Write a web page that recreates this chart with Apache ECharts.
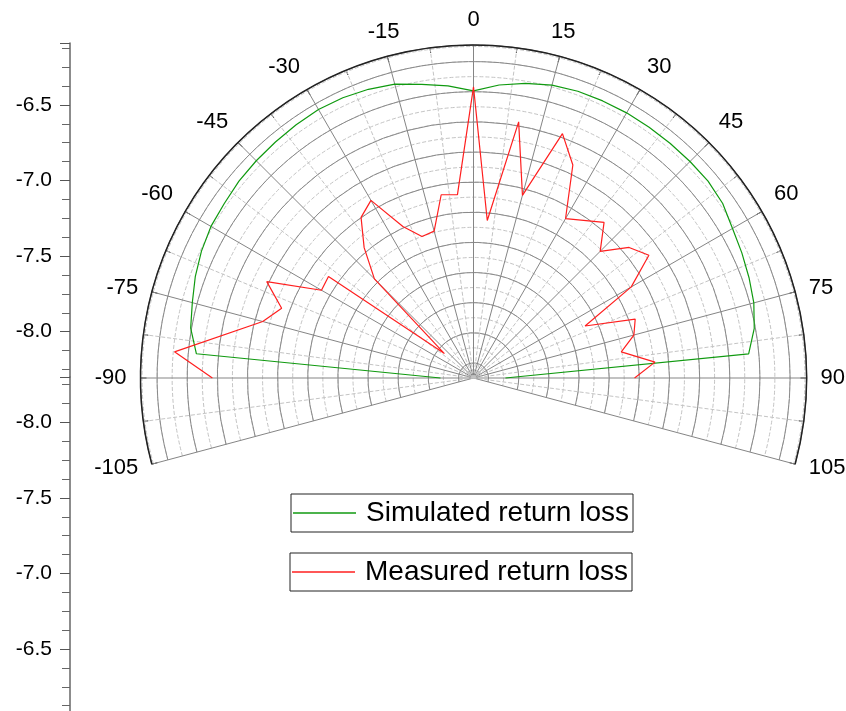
<!DOCTYPE html>
<html>
<head>
<meta charset="utf-8">
<script src="https://cdn.jsdelivr.net/npm/echarts@6/dist/echarts.min.js"></script>
<style>
  html, body { margin: 0; padding: 0; background: #fff; }
  #chart { width: 846px; height: 711px; }
</style>
</head>
<body>
<div id="chart"></div>
<script>
// Simulated return loss (dB) vs angle (deg)
const simAngles = [-90,-85,-80,-75,-70,-65,-60,-55,-50,-45,-40,-35,-30,-25,-20,-15,-10,-5,0,
                   5,10,15,20,25,30,35,40,45,50,55,60,65,70,75,80,85,90];
const simulated = [-8.081,-6.454,-6.394,-6.368,-6.335,-6.308,-6.288,-6.281,-6.268,-6.261,-6.255,-6.248,-6.242,-6.248,-6.261,-6.281,-6.321,-6.354,-6.394,
                   -6.348,-6.315,-6.288,-6.275,-6.271,-6.268,-6.268,-6.268,-6.268,-6.268,-6.281,-6.315,-6.335,-6.354,-6.374,-6.408,-6.467,-8.088];

// Measured return loss (dB) vs angle (deg)
const measAngles = [-90,-85,-75,-70,-65,-60,-55,-50,-45,-40,-35,-30,-25,-20,-15,-10,-5,0,
                    5,10,15,20,25,30,40,45,50,55,60,65,70,75,80,85,90];
const measured = [-6.567,-6.308,-6.852,-6.945,-6.786,-7.135,-7.125,-8.048,-7.370,-7.171,-6.999,-6.939,-7.191,-7.301,-7.291,-7.065,-7.078,-6.368,
                  -7.251,-6.574,-7.045,-6.574,-6.740,-7.078,-6.952,-7.111,-6.952,-6.879,-7.091,-7.483,-7.158,-7.198,-7.304,-7.091,-7.231];

const seriesNames = ['Simulated return loss', 'Measured return loss'];
const rMin = -8.3, rMax = -6.09;
const angMin = -105, angMax = 105;
const FONT = 'Liberation Sans, Arial, sans-serif';

const chart = echarts.init(document.getElementById('chart'), null, { renderer: 'canvas' });

const leftAxisCommon = {
  type: 'value',
  position: 'left',
  min: rMin,
  max: rMax,
  splitNumber: 4,
  axisLine: { show: true, lineStyle: { color: '#666', width: 1.5 } },
  axisTick: { show: true, inside: false, length: 10, lineStyle: { color: '#555' } },
  minorTick: { show: true, splitNumber: 4, length: 8, lineStyle: { color: '#666' } },
  splitLine: { show: false },
  axisLabel: {
    show: true, margin: 18, fontSize: 21, color: '#000', fontFamily: FONT,
    showMinLabel: false, showMaxLabel: false,
    formatter: v => v.toFixed(1)
  }
};

const polarGeom = { center: [473.5, 378], radius: 333 };

const legendCommon = {
  borderColor: '#222', borderWidth: 1, padding: [5, 4, 5, 2],
  icon: 'rect', itemWidth: 63, itemHeight: 1.5,
  textStyle: { fontSize: 28, color: '#000', fontFamily: FONT, padding: [0, 0, 0, 5] }
};

const option = {
  backgroundColor: '#fff',
  animation: false,
  grid: [
    { left: 70, top: 43, width: 1, height: 334 },
    { left: 70, top: 377, width: 1, height: 334 }
  ],
  xAxis: [
    { gridIndex: 0, type: 'value', show: false },
    { gridIndex: 1, type: 'value', show: false }
  ],
  yAxis: [
    Object.assign({ gridIndex: 0 }, leftAxisCommon),
    Object.assign({ gridIndex: 1, inverse: true }, leftAxisCommon)
  ],
  polar: [Object.assign({}, polarGeom), Object.assign({}, polarGeom)],
  angleAxis: [
    {
      polarIndex: 0,
      type: 'value', min: angMin, max: angMax, interval: 15,
      startAngle: 195, endAngle: -15, clockwise: true,
      z: 2,
      axisLine: { show: true, lineStyle: { color: '#222', width: 1.5 } },
      axisTick: { show: true, inside: true, length: 6, lineStyle: { color: '#222' } },
      minorTick: { show: true, splitNumber: 2, length: 5, lineStyle: { color: '#222' } },
      axisLabel: { show: true, margin: 14, fontSize: 22, color: '#000', fontFamily: FONT },
      splitLine: { show: true, lineStyle: { color: '#858585', width: 1 } },
      minorSplitLine: { show: true, lineStyle: { color: '#c4c4c4', width: 1, type: 'dashed' } }
    },
    {
      polarIndex: 1,
      type: 'value', min: angMin, max: angMax, interval: 15,
      startAngle: 195, endAngle: -15, clockwise: true,
      z: 0,
      axisLine: { show: false }, axisTick: { show: false }, axisLabel: { show: false },
      splitLine: { show: false }
    }
  ],
  radiusAxis: [
    {
      polarIndex: 0,
      type: 'value', min: rMin, max: rMax, splitNumber: 11,
      z: 1,
      axisLine: { show: false }, axisTick: { show: false }, axisLabel: { show: false },
      splitLine: { show: true, lineStyle: { color: '#8a8a8a', width: 1 } }
    },
    {
      polarIndex: 1,
      type: 'value', min: rMin, max: rMax, splitNumber: 22,
      z: 0,
      axisLine: { show: false }, axisTick: { show: false }, axisLabel: { show: false },
      splitLine: { show: true, lineStyle: { color: '#c4c4c4', width: 1, type: 'dashed' } }
    }
  ],
  legend: [
    Object.assign({ data: [seriesNames[0]], left: 291, top: 494 }, legendCommon),
    Object.assign({ data: [seriesNames[1]], left: 290, top: 553 }, legendCommon)
  ],
  series: [
    {
      name: seriesNames[0], type: 'line', coordinateSystem: 'polar', polarIndex: 0,
      symbol: 'none', color: '#109a10',
      lineStyle: { width: 1.2, color: '#109a10' },
      data: simAngles.map((a, i) => [simulated[i], a]),
      z: 3
    },
    {
      name: seriesNames[1], type: 'line', coordinateSystem: 'polar', polarIndex: 0,
      symbol: 'none', color: '#ff1f1f',
      lineStyle: { width: 1.2, color: '#ff1f1f' },
      data: measAngles.map((a, i) => [measured[i], a]),
      z: 4
    }
  ]
};

chart.setOption(option);
</script>
</body>
</html>
